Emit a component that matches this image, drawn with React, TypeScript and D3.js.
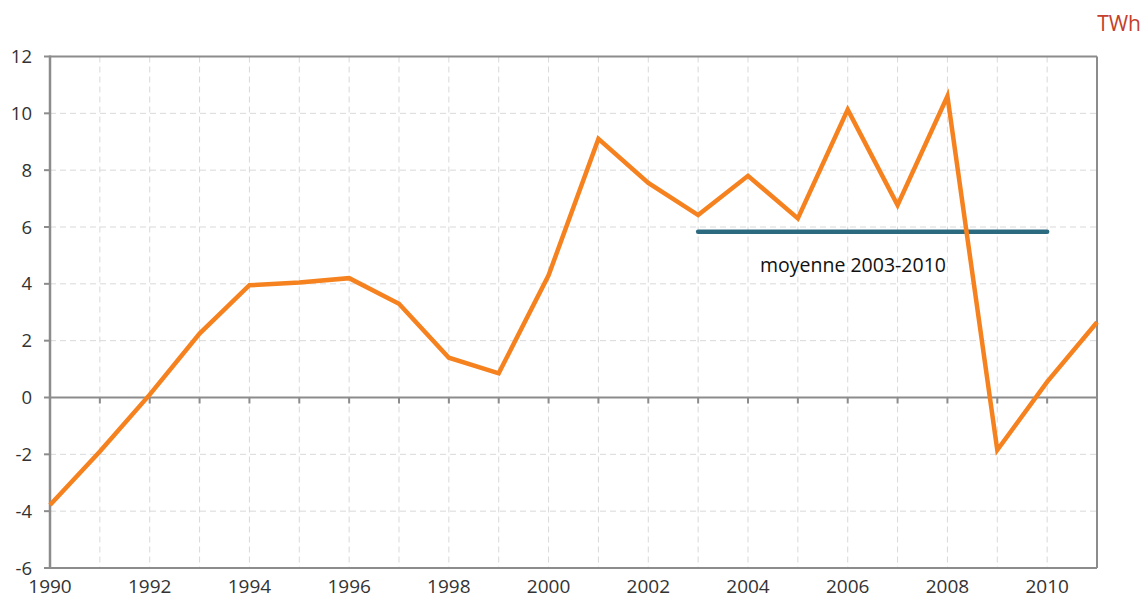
import React from 'react';
import {scaleLinear, line, range} from 'd3';

const years = range(1990, 2012);
const values = [
  -3.78, -1.9, 0.1, 2.25, 3.95, 4.05, 4.2, 3.3, 1.4, 0.85, 4.3, 9.1, 7.55, 6.42,
  7.8, 6.3, 10.13, 6.77, 10.6, -1.85, 0.55, 2.65,
];
const yTicks = [-6, -4, -2, 0, 2, 4, 6, 8, 10, 12];
const xTickLabels = [1990, 1992, 1994, 1996, 1998, 2000, 2002, 2004, 2006, 2008, 2010];
const meanFrom = 2003;
const meanTo = 2010;
const meanValue = 5.83;
const meanLabel = 'moyenne 2003-2010';
const unit = 'TWh';

const W = 1141;
const H = 595;
const left = 50;
const right = 1097;
const top = 56.5;
const bottom = 568;

const font = '"Open Sans", "DejaVu Sans", sans-serif';

export default function App() {
  const x = scaleLinear().domain([1990, 2011]).range([left, right]);
  const y = scaleLinear().domain([-6, 12]).range([bottom, top]);

  const path = line<number>()
    .x((_, i) => x(years[i]))
    .y((d) => y(d))(values);

  return (
    <div style={{position: 'fixed', left: 0, top: 0}}>
      <svg width={W} height={H} style={{display: 'block', background: '#fff'}}>
        {/* grid */}
        {years.slice(1, -1).map((yr) => (
          <line key={'vg' + yr} x1={x(yr)} x2={x(yr)} y1={top} y2={bottom}
            stroke="#d9d9d9" strokeWidth={1} strokeDasharray="6,4" />
        ))}
        {yTicks.slice(1, -1).map((t) => (
          <line key={'hg' + t} x1={left} x2={right} y1={y(t)} y2={y(t)}
            stroke="#d9d9d9" strokeWidth={1} strokeDasharray="6,4" />
        ))}

        {/* frame */}
        <line x1={left} x2={right} y1={top} y2={top} stroke="#8c8c8c" strokeWidth={2} />
        <line x1={right} x2={right} y1={top} y2={bottom} stroke="#8c8c8c" strokeWidth={2} />
        <line x1={left} x2={right} y1={bottom} y2={bottom} stroke="#8c8c8c" strokeWidth={2} />
        <line x1={left} x2={left} y1={top - 1} y2={bottom + 1} stroke="#8c8c8c" strokeWidth={2.5} />
        <line x1={left} x2={right} y1={y(0)} y2={y(0)} stroke="#8c8c8c" strokeWidth={2} />

        {/* x ticks on zero line */}
        {years.slice(1, -1).map((yr) => (
          <line key={'xt' + yr} x1={x(yr)} x2={x(yr)} y1={y(0)} y2={y(0) + 6}
            stroke="#8c8c8c" strokeWidth={2} />
        ))}

        {/* y ticks and labels */}
        {yTicks.map((t) => (
          <g key={'yt' + t}>
            <line x1={left - 6} x2={left} y1={y(t)} y2={y(t)} stroke="#8c8c8c" strokeWidth={2} />
            <text x={32} y={y(t)} dy="0.36em" textAnchor="end" fontFamily={font}
              fontSize={18.5} fill="#333">{t}</text>
          </g>
        ))}

        {/* x labels */}
        {xTickLabels.map((yr) => (
          <text key={'xl' + yr} x={x(yr)} y={593} textAnchor="middle" fontFamily={font}
            fontSize={19} fill="#333">{yr}</text>
        ))}

        {/* mean line */}
        <line x1={x(meanFrom)} x2={x(meanTo)} y1={y(meanValue)} y2={y(meanValue)}
          stroke="#2c6a80" strokeWidth={4.5} strokeLinecap="round" />
        <text x={853} y={272} textAnchor="middle"
          fontFamily={font} fontSize={19.5} fill="#111">{meanLabel}</text>

        {/* data line */}
        <path d={path ?? ''} fill="none" stroke="#f5821f" strokeWidth={4.5}
          strokeLinejoin="miter" />

        {/* unit */}
        <text x={W} y={31} textAnchor="end" fontFamily={font} fontSize={21}
          fill="#c4402c">{unit}</text>
      </svg>
    </div>
  );
}
